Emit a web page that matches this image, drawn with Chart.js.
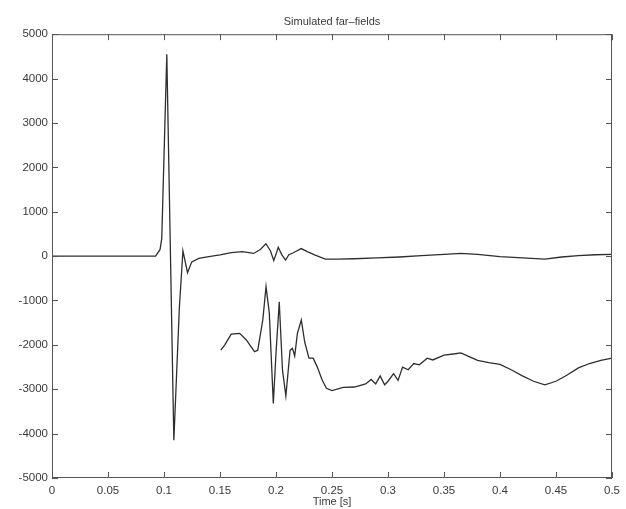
<!DOCTYPE html>
<html>
<head>
<meta charset="utf-8">
<script src="https://cdn.jsdelivr.net/npm/chart.js@4.4.1/dist/chart.umd.min.js"></script>
<style>
  html, body { margin: 0; padding: 0; background: #fff; }
  #wrap { width: 626px; height: 509px; }
</style>
</head>
<body>
<div id="wrap"><canvas id="farField"></canvas></div>
<script>
// time axis ticks [s] and amplitude ticks
const xTicks = [0, 0.05, 0.1, 0.15, 0.2, 0.25, 0.3, 0.35, 0.4, 0.45, 0.5];
const xTickLabels = ['0', '0.05', '0.1', '0.15', '0.2', '0.25', '0.3', '0.35', '0.4', '0.45', '0.5'];
const yTicks = [5000, 4000, 3000, 2000, 1000, 0, -1000, -2000, -3000, -4000, -5000];

// upper trace: [time, amplitude]
const upperField = [
  [0, 0], [0.05, 0], [0.0925, 0], [0.0965, 150], [0.098, 400], [0.1025, 4550],
  [0.1088, -4150], [0.1137, -1170], [0.1169, 120], [0.121, -375], [0.1248, -130],
  [0.131, -50], [0.14, -10], [0.15, 30], [0.16, 80], [0.17, 100], [0.18, 60],
  [0.186, 150], [0.191, 280], [0.195, 120], [0.198, -100], [0.2, 40], [0.202, 200],
  [0.205, 40], [0.2085, -90], [0.2115, 30], [0.215, 70], [0.218, 110], [0.2225, 170],
  [0.228, 100], [0.235, 20], [0.244, -70], [0.255, -70], [0.27, -60], [0.29, -40],
  [0.31, -20], [0.33, 10], [0.35, 40], [0.365, 60], [0.38, 40], [0.4, -10],
  [0.42, -40], [0.44, -70], [0.455, -20], [0.47, 10], [0.485, 30], [0.5, 40]
];

// lower trace: [time, amplitude]
const lowerField = [
  [0.1507, -2120], [0.1543, -2000], [0.16, -1760], [0.1676, -1740], [0.1735, -1890],
  [0.1808, -2155], [0.1837, -2120], [0.1882, -1440], [0.1911, -690], [0.194, -1280],
  [0.1976, -3320], [0.2, -2190], [0.2029, -1030], [0.2058, -2570], [0.2088, -3150],
  [0.2126, -2120], [0.2147, -2080], [0.2167, -2250], [0.2191, -1740], [0.2226, -1440],
  [0.2256, -1930], [0.2294, -2300], [0.2332, -2300], [0.2367, -2490], [0.2412, -2790],
  [0.245, -2980], [0.25, -3030], [0.26, -2960], [0.27, -2950], [0.28, -2880],
  [0.285, -2780], [0.289, -2880], [0.293, -2700], [0.297, -2900], [0.3, -2820],
  [0.305, -2650], [0.309, -2800], [0.313, -2500], [0.318, -2560], [0.323, -2420],
  [0.328, -2450], [0.335, -2300], [0.34, -2340], [0.35, -2230], [0.36, -2200],
  [0.365, -2180], [0.372, -2260], [0.38, -2350], [0.39, -2400], [0.4, -2440],
  [0.41, -2560], [0.42, -2700], [0.43, -2820], [0.44, -2900], [0.45, -2820],
  [0.46, -2680], [0.47, -2520], [0.48, -2420], [0.49, -2350], [0.5, -2300]
];

const toPoints = arr => arr.map(p => ({ x: p[0], y: p[1] }));

// box around the plot with inward ticks on every side
const boxTicks = {
  id: 'boxTicks',
  afterDraw(chart) {
    const { ctx, chartArea: a, scales } = chart;
    const len = 6;
    ctx.save();
    ctx.strokeStyle = '#555';
    ctx.lineWidth = 1;
    ctx.strokeRect(a.left + 0.5, a.top + 0.5, a.right - a.left - 1, a.bottom - a.top - 1);
    ctx.beginPath();
    xTicks.forEach(v => {
      const px = Math.round(scales.x.getPixelForValue(v)) + 0.5;
      ctx.moveTo(px, a.bottom); ctx.lineTo(px, a.bottom - len);
      ctx.moveTo(px, a.top); ctx.lineTo(px, a.top + len);
    });
    yTicks.forEach(v => {
      const py = Math.round(scales.y.getPixelForValue(v)) + 0.5;
      ctx.moveTo(a.left, py); ctx.lineTo(a.left + len, py);
      ctx.moveTo(a.right, py); ctx.lineTo(a.right - len, py);
    });
    ctx.stroke();
    ctx.restore();
  }
};

const tickFont = { family: 'Liberation Sans, Arial, sans-serif', size: 11.5 };

new Chart(document.getElementById('farField'), {
  type: 'scatter',
  data: {
    datasets: [
      { data: toPoints(upperField) },
      { data: toPoints(lowerField) }
    ]
  },
  options: {
    responsive: true,
    maintainAspectRatio: false,
    animation: false,
    showLine: true,
    layout: { padding: { left: 0, right: 8, top: 0, bottom: 0 } },
    elements: {
      point: { radius: 0, hoverRadius: 0 },
      line: { borderColor: '#2e2e2e', borderWidth: 1.3, tension: 0, fill: false }
    },
    plugins: {
      legend: { display: false },
      tooltip: { enabled: false },
      title: {
        display: true,
        text: 'Simulated far\u2013fields',
        fullSize: false,
        color: '#3a3a3a',
        font: { family: 'Liberation Sans, Arial, sans-serif', size: 11, weight: 'normal' },
        padding: { top: 15, bottom: 6 }
      }
    },
    scales: {
      x: {
        type: 'linear',
        min: 0,
        max: 0.5,
        afterBuildTicks: s => { s.ticks = xTicks.map(v => ({ value: v })); },
        afterFit: s => { s.height = 31; },
        grid: { display: false, drawTicks: false },
        border: { display: false },
        ticks: {
          padding: 6,
          color: '#3a3a3a',
          font: tickFont,
          maxRotation: 0,
          autoSkip: false,
          callback: (v, i) => xTickLabels[i]
        },
        title: {
          display: true,
          text: 'Time [s]',
          color: '#3a3a3a',
          font: { family: 'Liberation Sans, Arial, sans-serif', size: 11 },
          padding: 0
        }
      },
      y: {
        type: 'linear',
        min: -5000,
        max: 5000,
        afterBuildTicks: s => { s.ticks = yTicks.map(v => ({ value: v })); },
        afterFit: s => { s.width = 52; },
        grid: { display: false, drawTicks: false },
        border: { display: false },
        ticks: {
          padding: 4,
          color: '#3a3a3a',
          font: tickFont,
          autoSkip: false,
          callback: v => String(v)
        }
      }
    }
  },
  plugins: [boxTicks]
});
</script>
</body>
</html>
